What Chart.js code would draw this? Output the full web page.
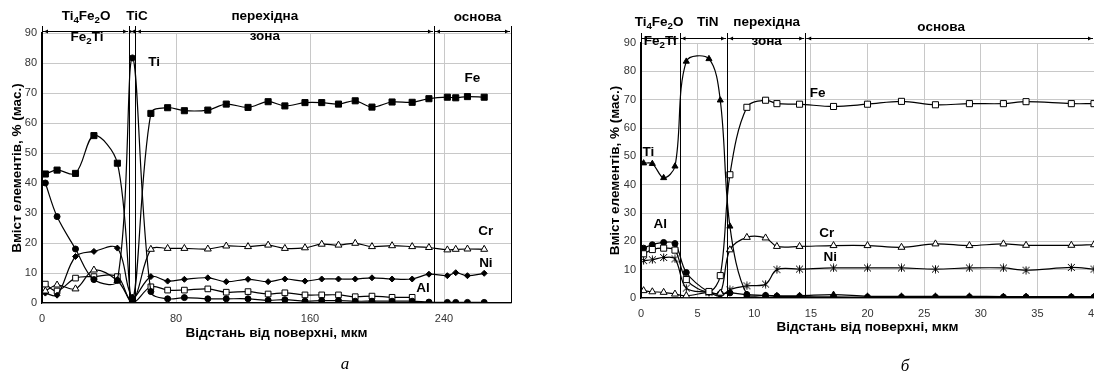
<!DOCTYPE html>
<html>
<head>
<meta charset="utf-8">
<script src="https://cdn.jsdelivr.net/npm/chart.js@4.4.0/dist/chart.umd.min.js"></script>
<style>
html, body { margin: 0; padding: 0; background: #fff; overflow: hidden; width: 1094px; height: 381px; }
canvas { position: absolute; top: 0; }
#chartA { left: 0; }
#chartB { left: 580px; }
</style>
</head>
<body>
<canvas id="chartA" width="560" height="381"></canvas>
<canvas id="chartB" width="560" height="381"></canvas>
<script>
// ---- дані (а) ----
var distA = [2, 9, 20, 31, 45, 54, 65, 75, 85, 99, 110, 123, 135, 145, 157, 167, 177, 187, 197, 209, 221, 231, 242, 247, 254, 264];
var feA = [43, 44.3, 43.2, 55.8, 46.6, 1, 63.2, 65.1, 64.1, 64.3, 66.3, 65.2, 67.1, 65.7, 66.8, 66.8, 66.3, 67.4, 65.3, 67, 66.9, 68.1, 68.6, 68.4, 68.8, 68.6];
var tiA = [40, 28.8, 18, 7.8, 7.5, 81.7, 3.8, 1.4, 1.8, 1.4, 1.4, 1.4, 0.9, 1.1, 0.6, 0.8, 0.8, 0.6, 0.6, 0.6, 0.6, 0.3, 0.2, 0.2, 0.2, 0.2];
var crA = [4, 6, 4.7, 11, 7.5, 0.5, 17.9, 18.2, 18.2, 18, 19, 18.8, 19.3, 18.2, 18.4, 19.6, 19.3, 19.9, 18.8, 19.1, 18.8, 18.5, 17.7, 17.9, 18, 17.9];
var niA = [3.3, 2.6, 15.5, 17.2, 18.3, 2, 8.8, 7.3, 7.9, 8.4, 7.1, 7.9, 7.1, 8, 7.3, 8, 8, 8, 8.4, 8, 8, 9.6, 9.1, 10.1, 9.1, 9.9];
var alA = [6.3, 4, 8.3, 8.8, 8.8, 0, 5.4, 4.3, 4.3, 4.7, 3.6, 3.8, 3, 3.4, 2.7, 2.7, 2.7, 2.1, 2.3, 1.9, 1.9];
var xTicksA = [0, 80, 160, 240];
var phaseA = [52, 55.5, 234];

// ---- дані (б) ----
var distB = [0.23, 1, 2, 3, 4, 6, 7, 7.85, 9.35, 11, 12, 14, 17, 20, 23, 26, 29, 32, 34, 38, 40];
var tiB = [47.6, 47.4, 42.4, 46.5, 83.5, 84.4, 69.8, 25.3, 1.2, 0.9, 0.8, 0.8, 1.2, 0.6, 0.6, 0.6, 0.6, 0.5, 0.5, 0.5, 0.5];
var feB = [15.6, 17.1, 17.6, 16.9, 6.5, 2.3, 7.9, 43.5, 67.3, 69.8, 68.6, 68.4, 67.6, 68.4, 69.4, 68.2, 68.6, 68.6, 69.3, 68.6, 68.6];
var crB = [2.6, 2.2, 2.0, 1.4, 0.8, 2, 1.7, 17, 21.4, 21.2, 18.2, 18.2, 18.5, 18.5, 17.9, 19.1, 18.5, 19.1, 18.6, 18.6, 18.8];
var niB = [13.2, 13.5, 14.3, 13.8, 3.5, 1.9, 0.6, 2.9, 4.3, 4.9, 10, 10.2, 10.6, 10.6, 10.6, 10.2, 10.6, 10.6, 9.8, 10.8, 10.2];
var alB = [17.6, 18.8, 19.6, 19.2, 9, 2, 1.5, 1.8, 1.2, 0.9, 0.6, 0.5, 0.4, 0.3, 0.3, 0.3, 0.3, 0.3, 0.3, 0.3, 0.3];
var xTicksB = [0, 5, 10, 15, 20, 25, 30, 35, 40];
var phaseB = [3.4, 7.6, 14.5];

var yTicks = [0, 10, 20, 30, 40, 50, 60, 70, 80, 90];
var yTitle = 'Вміст елементів, % (мас.)';
var xTitle = 'Відстань від поверхні, мкм';

var FONT = "'Liberation Sans', Arial, sans-serif";

// маркер "ж" (Х з вертикальною рискою) як у Excel
var zhMark = document.createElement('canvas');
zhMark.width = 9; zhMark.height = 9;
(function () {
    var c = zhMark.getContext('2d');
    c.strokeStyle = '#000';
    c.lineWidth = 1;
    c.beginPath();
    c.moveTo(1, 1); c.lineTo(8, 8);
    c.moveTo(8, 1); c.lineTo(1, 8);
    c.moveTo(4.5, 0.5); c.lineTo(4.5, 8.5);
    c.stroke();
})();

function series(xs, ys, style) {
    return Object.assign({
        data: ys.map(function (y, i) { return { x: xs[i], y: y }; }),
        borderColor: '#000',
        borderWidth: 1.2,
        tension: 0.35,
        pointBorderColor: '#000',
        pointBorderWidth: 1,
        pointBackgroundColor: '#000',
        pointRadius: 3
    }, style);
}

// текст з нижніми індексами: "Ti_4Fe_2O"
function subText(ctx, text, cx, cy, size) {
    var parts = [];
    for (var i = 0; i < text.length; i++) {
        if (text[i] === '_') { parts.push([text[i + 1], true]); i++; }
        else if (parts.length && !parts[parts.length - 1][1]) parts[parts.length - 1][0] += text[i];
        else parts.push([text[i], false]);
    }
    var w = 0;
    parts.forEach(function (p) {
        ctx.font = 'bold ' + (p[1] ? size * 0.72 : size) + 'px ' + FONT;
        p.push(ctx.measureText(p[0]).width);
        w += p[2];
    });
    var x = cx - w / 2;
    ctx.textAlign = 'left';
    ctx.textBaseline = 'middle';
    parts.forEach(function (p) {
        ctx.font = 'bold ' + (p[1] ? size * 0.72 : size) + 'px ' + FONT;
        ctx.fillText(p[0], x, cy + (p[1] ? size * 0.3 : 0));
        x += p[2];
    });
}

function arrowSeg(ctx, x1, x2, y) {
    ctx.beginPath();
    ctx.moveTo(x1, y); ctx.lineTo(x2, y);
    ctx.stroke();
    ctx.beginPath();
    ctx.moveTo(x1 + 1, y); ctx.lineTo(x1 + 5, y - 2); ctx.lineTo(x1 + 5, y + 2); ctx.closePath();
    ctx.moveTo(x2 - 1, y); ctx.lineTo(x2 - 5, y - 2); ctx.lineTo(x2 - 5, y + 2); ctx.closePath();
    ctx.fill();
}

var decor = {
    id: 'decor',
    afterDraw: function (chart, args, o) {
        var ctx = chart.ctx, xs = chart.scales.x, ys = chart.scales.y, a = chart.chartArea;
        ctx.save();
        ctx.strokeStyle = '#000';
        ctx.fillStyle = '#000';
        ctx.lineWidth = 1;
        // межі зон
        var edges = [0].concat(o.phases).concat([xs.max]);
        edges.forEach(function (v) {
            var px = Math.round(xs.getPixelForValue(v)) + 0.5;
            ctx.beginPath();
            ctx.moveTo(px, o.lineTop); ctx.lineTo(px, a.bottom);
            ctx.stroke();
        });
        for (var i = 0; i < edges.length - 1; i++) {
            arrowSeg(ctx, xs.getPixelForValue(edges[i]) + 1, xs.getPixelForValue(edges[i + 1]) - 1, o.arrowY + 0.5);
        }
        // підписи зон
        ctx.fillStyle = '#000';
        o.heads.forEach(function (h) {
            subText(ctx, h.t, xs.getPixelForValue(h.x), h.y, 13.5);
        });
        // підписи серій
        o.names.forEach(function (n) {
            subText(ctx, n.t, xs.getPixelForValue(n.x), ys.getPixelForValue(n.y), 13.5);
        });
        // літера
        ctx.font = 'italic 17px "Liberation Serif", "Times New Roman", serif';
        ctx.textAlign = 'center';
        ctx.textBaseline = 'middle';
        ctx.fillText(o.letter[0], o.letter[1], o.letter[2]);
        ctx.restore();
    }
};

function makeChart(id, datasets, cfg) {
    return new Chart(document.getElementById(id), {
        type: 'line',
        data: { datasets: datasets },
        plugins: [decor],
        options: {
            responsive: false,
            animation: false,
            layout: { padding: { left: 0, top: cfg.top, right: cfg.right, bottom: 0 } },
            plugins: {
                legend: { display: false },
                tooltip: { enabled: false },
                decor: cfg.decor
            },
            scales: {
                x: {
                    type: 'linear',
                    min: 0,
                    max: cfg.xMax,
                    afterBuildTicks: function (s) { s.ticks = cfg.xTicks.map(function (v) { return { value: v }; }); },
                    afterFit: function (s) { s.height = cfg.xAxisH; },
                    grid: { color: '#c8c8c8', drawTicks: false },
                    border: { color: '#000', width: 1.2 },
                    ticks: { font: { size: 11, family: FONT }, color: '#333', padding: cfg.xTickPad, maxRotation: 0, autoSkip: false },
                    title: { display: true, text: xTitle, color: '#000', font: { size: 13.5, weight: 'bold', family: FONT }, padding: { top: 0, bottom: cfg.xTitlePad } }
                },
                y: {
                    min: 0,
                    max: 90,
                    afterBuildTicks: function (s) { s.ticks = yTicks.map(function (v) { return { value: v }; }); },
                    afterFit: function (s) { s.width = cfg.yAxisW; },
                    grid: { color: '#c8c8c8', drawTicks: false },
                    border: { color: '#000', width: 1.2 },
                    ticks: { font: { size: 11, family: FONT }, color: '#333', padding: 5 },
                    title: { display: true, text: yTitle, color: '#000', font: { size: 13.5, weight: 'bold', family: FONT }, padding: { top: cfg.yTitlePad, bottom: 0 } }
                }
            }
        }
    });
}

// (а)
makeChart('chartA', [
    series(distA, feA, { pointStyle: 'rect', pointRadius: 4.3 }),
    series(distA, tiA, { pointStyle: 'circle', pointRadius: 3 }),
    series(distA, crA, { pointStyle: 'triangle', pointRadius: 4, pointBackgroundColor: '#fff' }),
    series(distA, niA, { pointStyle: 'rectRot', pointRadius: 3 }),
    series(distA, alA, { pointStyle: 'rect', pointRadius: 4, pointBackgroundColor: '#fff' })
], {
    top: 33, right: 49, xMax: 280, xTicks: xTicksA,
    xAxisH: 78, yAxisW: 42, xTickPad: 9, xTitlePad: 40, yTitlePad: 9,
    decor: {
        phases: phaseA, lineTop: 26, arrowY: 31,
        heads: [
            { t: 'Ti_4Fe_2O', x: 26.3, y: 16 },
            { t: 'Fe_2Ti', x: 26.9, y: 37 },
            { t: 'TiC', x: 56.7, y: 16 },
            { t: 'перехідна', x: 133, y: 16 },
            { t: 'зона', x: 133, y: 36 },
            { t: 'основа', x: 260, y: 17 }
        ],
        names: [
            { t: 'Ti', x: 67, y: 80.3 },
            { t: 'Fe', x: 257, y: 75 },
            { t: 'Cr', x: 265, y: 24 },
            { t: 'Ni', x: 265, y: 13.3 },
            { t: 'Al', x: 227.5, y: 5 }
        ],
        letter: ['а', 345, 365]
    }
});

// (б)
makeChart('chartB', [
    series(distB, tiB, { pointStyle: 'triangle', pointRadius: 3.5 }),
    series(distB, feB, { pointStyle: 'rect', pointRadius: 4.3, pointBackgroundColor: '#fff' }),
    series(distB, crB, { pointStyle: 'triangle', pointRadius: 4, pointBackgroundColor: '#fff' }),
    series(distB, niB, { pointStyle: zhMark, pointRadius: 4 }),
    series(distB, alB, { pointStyle: 'circle', pointRadius: 3 })
], {
    top: 43, right: 46, xMax: 40, xTicks: xTicksB,
    xAxisH: 83, yAxisW: 61, xTickPad: 9, xTitlePad: 46, yTitlePad: 27,
    decor: {
        phases: phaseB, lineTop: 33, arrowY: 38,
        heads: [
            { t: 'Ti_4Fe_2O', x: 1.6, y: 22 },
            { t: 'Fe_2Ti', x: 1.7, y: 41 },
            { t: 'TiN', x: 5.9, y: 22 },
            { t: 'перехідна', x: 11.1, y: 22 },
            { t: 'зона', x: 11.1, y: 41 },
            { t: 'основа', x: 26.5, y: 27 }
        ],
        names: [
            { t: 'Ti', x: 0.65, y: 51.6 },
            { t: 'Fe', x: 15.6, y: 72.4 },
            { t: 'Al', x: 1.7, y: 25.9 },
            { t: 'Cr', x: 16.4, y: 23 },
            { t: 'Ni', x: 16.7, y: 14.2 }
        ],
        letter: ['б', 325, 367]
    }
});
</script>
</body>
</html>
